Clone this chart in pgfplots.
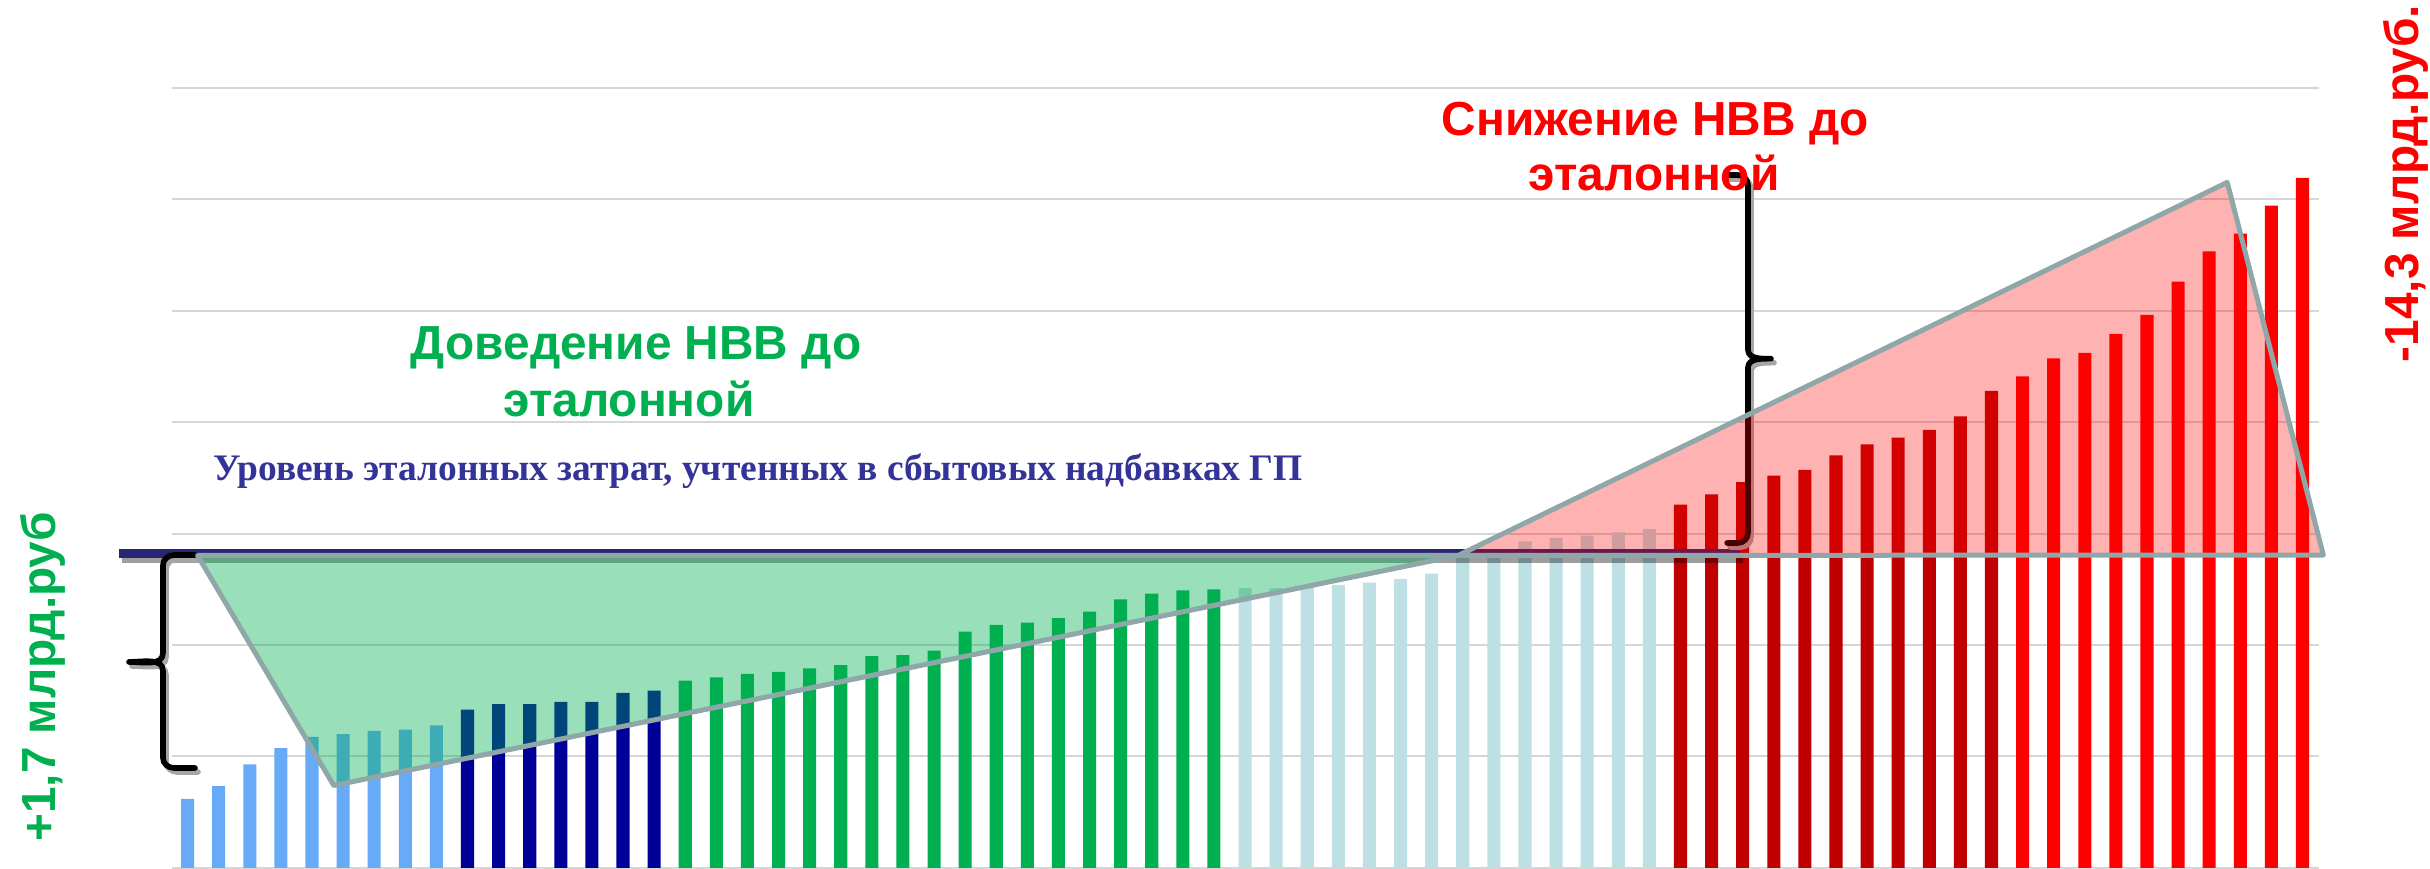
\documentclass[border=0pt]{standalone}
\usepackage{fontspec}
\setmainfont{Liberation Serif}
\newfontfamily\arial{Liberation Sans}
\usepackage{pgfplots}
\pgfplotsset{compat=1.18}
\usepackage{pgfplotstable}

\definecolor{lblue}{RGB}{102,170,248}
\definecolor{dblue}{RGB}{0,0,153}
\definecolor{grn}{RGB}{0,176,80}
\definecolor{lcyan}{RGB}{188,224,228}
\definecolor{dred}{RGB}{192,0,0}
\definecolor{rred}{RGB}{255,0,0}
\definecolor{navy}{RGB}{40,38,115}
\definecolor{edge}{RGB}{143,167,168}
\definecolor{gridc}{RGB}{214,214,214}
\definecolor{bluetext}{RGB}{51,51,153}

\pgfplotstableread{
x y
0 0.62
1 0.735
2 0.93
3 1.076
4 1.175
5 1.20
6 1.23
7 1.24
8 1.28
}\lightblue
\pgfplotstableread{
x y
9 1.42
10 1.47
11 1.47
12 1.49
13 1.49
14 1.57
15 1.59
}\darkblue
\pgfplotstableread{
x y
16 1.68
17 1.71
18 1.74
19 1.76
20 1.79
21 1.82
22 1.90
23 1.91
24 1.95
25 2.12
26 2.18
27 2.20
28 2.24
29 2.30
30 2.41
31 2.46
32 2.49
33 2.50
}\green
\pgfplotstableread{
x y
34 2.51
35 2.51
36 2.53
37 2.54
38 2.56
39 2.59
40 2.64
41 2.80
42 2.82
43 2.93
44 2.96
45 2.98
46 3.01
47 3.04
}\cyan
\pgfplotstableread{
x y
48 3.26
49 3.35
50 3.46
51 3.52
52 3.57
53 3.70
54 3.80
55 3.86
56 3.93
57 4.05
58 4.28
}\darkred
\pgfplotstableread{
x y
59 4.41
60 4.57
61 4.62
62 4.79
63 4.96
64 5.26
65 5.53
66 5.69
67 5.94
68 6.19
}\brightred

\begin{document}
\begin{tikzpicture}
\begin{axis}[name=ax, scale only axis, width=243mm, height=86.9mm,
  xmin=-6.032, xmax=72.10, ymin=-0.009, ymax=7.785,
  axis lines=none, clip=false]

\pgfplotsinvokeforeach{0,1,2,3,4,5,6,7}{
  \draw[gridc, line width=0.2mm] (axis cs:-0.514,#1) -- (axis cs:68.53,#1);
}

\addplot[ybar, bar shift=0pt, bar width=0.42, fill=lblue, draw=none] table {\lightblue};
\addplot[ybar, bar shift=0pt, bar width=0.42, fill=dblue, draw=none] table {\darkblue};
\addplot[ybar, bar shift=0pt, bar width=0.42, fill=grn, draw=none] table {\green};
\addplot[ybar, bar shift=0pt, bar width=0.42, fill=lcyan, draw=none] table {\cyan};
\addplot[ybar, bar shift=0pt, bar width=0.42, fill=dred, draw=none] table {\darkred};
\addplot[ybar, bar shift=0pt, bar width=0.42, fill=rred, draw=none] table {\brightred};

% reference level line with shadow
\draw[black, opacity=0.38, line width=0.9mm] (axis cs:-2.1,2.776) -- (axis cs:50.0,2.776);
\draw[navy, line width=0.9mm] (axis cs:-2.2,2.825) -- (axis cs:49.92,2.825);

% left brace {
\begin{scope}[line width=1.6pt, line cap=round, line join=round]
\draw[black!35, xshift=0.3mm, yshift=-0.4mm]
  (axis cs:0.238,2.807) -- (axis cs:-0.43,2.807) to[out=180,in=90] (axis cs:-0.791,2.717)
  -- (axis cs:-0.791,1.93) to[out=-90,in=0] (axis cs:-1.884,1.848)
  to[out=0,in=90] (axis cs:-0.791,1.766) -- (axis cs:-0.791,0.987)
  to[out=-90,in=180] (axis cs:-0.43,0.897) -- (axis cs:0.238,0.897);
\draw[black]
  (axis cs:0.238,2.807) -- (axis cs:-0.43,2.807) to[out=180,in=90] (axis cs:-0.791,2.717)
  -- (axis cs:-0.791,1.93) to[out=-90,in=0] (axis cs:-1.884,1.848)
  to[out=0,in=90] (axis cs:-0.791,1.766) -- (axis cs:-0.791,0.987)
  to[out=-90,in=180] (axis cs:-0.43,0.897) -- (axis cs:0.238,0.897);
% right brace }
\draw[black!35, xshift=0.3mm, yshift=-0.4mm]
  (axis cs:49.50,6.215) -- (axis cs:49.85,6.215) to[out=0,in=90] (axis cs:50.17,6.125)
  -- (axis cs:50.17,4.65) to[out=-90,in=180] (axis cs:50.91,4.568)
  to[out=180,in=90] (axis cs:50.17,4.486) -- (axis cs:50.17,3.005)
  to[out=-90,in=0] (axis cs:49.85,2.915) -- (axis cs:49.50,2.915);
\draw[black]
  (axis cs:49.50,6.215) -- (axis cs:49.85,6.215) to[out=0,in=90] (axis cs:50.17,6.125)
  -- (axis cs:50.17,4.65) to[out=-90,in=180] (axis cs:50.91,4.568)
  to[out=180,in=90] (axis cs:50.17,4.486) -- (axis cs:50.17,3.005)
  to[out=-90,in=0] (axis cs:49.85,2.915) -- (axis cs:49.50,2.915);
\end{scope}

% polygons
\addplot[fill=grn, fill opacity=0.4, draw=edge, line width=0.5mm, line join=round]
  coordinates {(0.32,2.803) (4.7,0.74) (40.85,2.803)} -- cycle;
\addplot[fill=rred, fill opacity=0.3, draw=edge, line width=0.5mm, line join=round]
  coordinates {(40.85,2.803) (65.58,6.149) (68.67,2.807)} -- cycle;

% texts
\node[anchor=base, inner sep=0, text=grn, font=\arial\bfseries\fontsize{13.6}{16}\selectfont]
  at (axis cs:14.42,4.565) {Доведение НВВ до};
\node[anchor=base, inner sep=0, text=grn, font=\arial\bfseries\fontsize{13.6}{16}\selectfont]
  at (axis cs:14.19,4.048) {эталонной};
\node[anchor=base, inner sep=0, text=rred, font=\arial\bfseries\fontsize{13.6}{16}\selectfont]
  at (axis cs:47.19,6.574) {Снижение НВВ до};
\node[anchor=base, inner sep=0, text=rred, font=\arial\bfseries\fontsize{13.6}{16}\selectfont]
  at (axis cs:47.15,6.08) {эталонной};
\node[anchor=base, inner sep=0, text=bluetext, font=\bfseries\fontsize{10.65}{12}\selectfont]
  at (axis cs:18.34,3.471) {Уровень эталонных затрат, учтенных в сбытовых надбавках ГП};
\node[rotate=90, anchor=base west, inner sep=0, text=grn, font=\arial\bfseries\fontsize{13.6}{16}\selectfont]
  at (axis cs:-4.263,0.230) {+1,7 млрд.руб};
\node[rotate=90, anchor=base west, inner sep=0, text=rred, font=\arial\bfseries\fontsize{13.6}{16}\selectfont]
  at (axis cs:71.72,4.529) {-14,3 млрд.руб.};
\end{axis}
\pgfresetboundingbox
\path[use as bounding box] (ax.south west) rectangle (ax.north east);
\end{tikzpicture}
\end{document}
